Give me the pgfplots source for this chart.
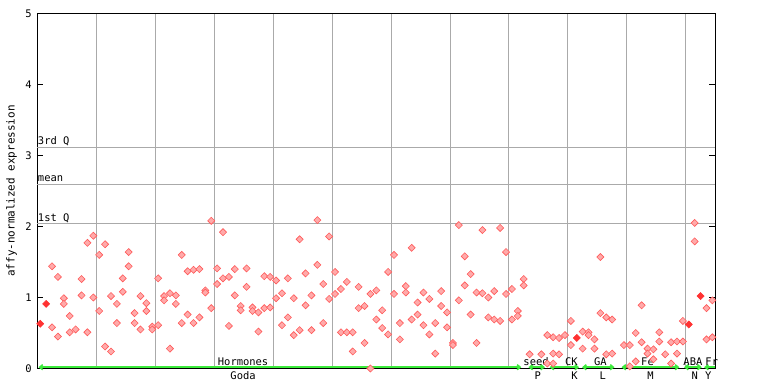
\documentclass[border=0pt]{standalone}
\usepackage{pgfplots}
\pgfplotsset{compat=1.18}
\usepackage{fontspec}
\setmainfont{DejaVu Sans Mono}
\usetikzlibrary{arrows.meta}
\definecolor{gridgray}{RGB}{170,170,170}
\definecolor{ptfill}{RGB}{255,170,170}
\definecolor{ptdraw}{RGB}{255,90,90}
\definecolor{solidred}{RGB}{255,50,50}
\definecolor{lgreen}{RGB}{60,235,60}
\newcommand{\sm}{\fontsize{10.5}{10.5}\selectfont}
\begin{document}
\begin{tikzpicture}[x=1bp,y=1bp]
\path[use as bounding box] (0,0) rectangle (768,384);
\begin{axis}[
  at={(37.3bp,15.5bp)}, anchor=south west,
  scale only axis, width=678bp, height=355bp,
  xmin=0.5, xmax=115.5, ymin=0, ymax=5,
  clip=false,
  axis line style={black, line width=1bp},
  xtick={10.5,20.5,...,110.5}, xticklabels={},
  xmajorgrids, major grid style={gridgray, line width=1bp},
  xtick style={draw=none},
  major tick length=6bp,
  ytick={0,1,2,3,4,5}, tick align=inside, ytick pos=both, yticklabel pos=left,
  ytick style={black, line width=1bp},
  yticklabel style={font=\sm, xshift=-2bp},
  /pgf/number format/assume math mode=true,
  extra y ticks={2.038,2.588,3.106}, extra y tick labels={},
  extra y tick style={grid=major, tick style={draw=none}},
]
\addplot[only marks, mark=square*, mark size=2.5bp,
  mark options={rotate=45, fill=ptfill, draw=ptdraw, line width=0.6bp}] coordinates {
(3,1.44)(3,0.58)(4,1.29)(4,0.45)(5,0.99)(5,0.91)(6,0.74)(6,0.51)(7,0.55)(8,1.26)(8,1.03)(9,1.77)(9,0.51)(10,1.87)(10,1.00)(11,1.60)(11,0.81)(12,1.75)(12,0.31)(13,1.02)(13,0.24)(14,0.91)(14,0.64)(15,1.27)(15,1.08)(16,1.64)(16,1.44)(17,0.78)(17,0.64)(18,1.02)(18,0.55)(19,0.92)(19,0.81)(20,0.59)(20,0.55)(21,1.27)(21,0.61)(22,1.02)(22,0.96)(23,1.06)(23,0.28)(24,1.03)(24,0.91)(25,1.60)(25,0.64)(26,1.37)(26,0.76)(27,1.39)(27,0.64)(28,1.40)(28,0.72)(29,1.10)(29,1.07)(30,2.08)(30,0.85)(31,1.41)(31,1.19)(32,1.92)(32,1.27)(33,1.29)(33,0.60)(34,1.40)(34,1.03)(35,0.88)(35,0.82)(36,1.41)(36,1.15)(37,0.86)(37,0.81)(38,0.79)(38,0.52)(39,1.30)(39,0.85)(40,1.29)(40,0.86)(41,1.24)(41,0.99)(42,1.06)(42,0.61)(43,1.27)(43,0.72)(44,0.99)(44,0.47)(45,1.82)(45,0.54)(46,1.34)(46,0.89)(47,1.03)(47,0.54)(48,2.09)(48,1.46)(49,1.19)(49,0.64)(50,1.86)(50,0.98)(51,1.36)(51,1.05)(52,1.12)(52,0.51)(53,1.22)(53,0.51)(54,0.51)(54,0.24)(55,1.15)(55,0.85)(56,0.88)(56,0.36)(57,1.05)(57,0.00)(58,1.10)(58,0.69)(59,0.82)(59,0.57)(60,1.36)(60,0.48)(61,1.60)(61,1.05)(62,0.64)(62,0.41)(63,1.16)(63,1.07)(64,1.70)(64,0.69)(65,0.93)(65,0.76)(66,1.07)(66,0.61)(67,0.98)(67,0.48)(68,0.64)(68,0.21)(69,1.09)(69,0.88)(70,0.79)(70,0.58)(71,0.36)(71,0.33)(72,2.02)(72,0.96)(73,1.58)(73,1.17)(74,1.33)(74,0.76)(75,1.07)(75,0.36)(76,1.95)(76,1.06)(77,1.00)(77,0.72)(78,1.09)(78,0.69)(79,1.98)(79,0.67)(80,1.64)(80,1.05)(81,1.12)(81,0.69)(82,0.81)(82,0.74)(83,1.26)(83,1.17)(84,0.20)(86,0.20)(87,0.47)(87,0.07)(88,0.44)(88,0.21)(88,0.07)(89,0.43)(89,0.20)(90,0.47)(91,0.67)(91,0.33)(93,0.52)(93,0.28)(94,0.51)(94,0.47)(95,0.41)(95,0.28)(96,1.57)(96,0.78)(97,0.72)(97,0.20)(98,0.69)(98,0.21)(100,0.33)(101,0.33)(101,0.03)(102,0.50)(102,0.10)(103,0.89)(103,0.37)(104,0.28)(104,0.21)(105,0.27)(105,0.13)(106,0.51)(106,0.38)(107,0.20)(108,0.37)(108,0.07)(109,0.38)(109,0.21)(110,0.67)(110,0.38)(112,2.05)(112,1.79)(114,0.85)(114,0.41)(115,0.96)(115,0.44)
};
\addplot[only marks, mark=square*, mark size=2.5bp,
  mark options={rotate=45, fill=solidred, draw=solidred, line width=0.6bp}] coordinates {
(1,0.63)(2,0.91)(92,0.43)(111,0.62)(113,1.02)
};
% quartile labels
\node[font=\sm, anchor=base west, inner sep=0pt, xshift=0.5bp, yshift=3bp] at (axis cs:0.5,3.106) {3rd Q};
\node[font=\sm, anchor=base west, inner sep=0pt, xshift=0.5bp, yshift=3bp] at (axis cs:0.5,2.588) {mean};
\node[font=\sm, anchor=base west, inner sep=0pt, xshift=0.5bp, yshift=2bp] at (axis cs:0.5,2.038) {1st Q};
% group spans
\begin{scope}[lgreen, line width=1.6bp]
\draw[{Straight Barb[length=3bp,width=5bp]}-{Straight Barb[length=3bp,width=5bp]}] ([yshift=1.3bp]axis cs:0.7,0) -- ([yshift=1.3bp]axis cs:82.6,0);
\draw[{Straight Barb[length=3bp,width=5bp]}-{Straight Barb[length=3bp,width=5bp]}] ([yshift=1.3bp]axis cs:83.8,0) -- ([yshift=1.3bp]axis cs:86.6,0);
\draw[{Straight Barb[length=3bp,width=5bp]}-{Straight Barb[length=3bp,width=5bp]}] ([yshift=1.3bp]axis cs:87.4,0) -- ([yshift=1.3bp]axis cs:92.4,0);
\draw[{Straight Barb[length=3bp,width=5bp]}-{Straight Barb[length=3bp,width=5bp]}] ([yshift=1.3bp]axis cs:92.9,0) -- ([yshift=1.3bp]axis cs:98.4,0);
\draw[{Straight Barb[length=3bp,width=5bp]}-{Straight Barb[length=3bp,width=5bp]}] ([yshift=1.3bp]axis cs:99.6,0) -- ([yshift=1.3bp]axis cs:109.4,0);
\draw[{Straight Barb[length=3bp,width=5bp]}-{Straight Barb[length=3bp,width=5bp]}] ([yshift=1.3bp]axis cs:110.2,0) -- ([yshift=1.3bp]axis cs:113.2,0);
\draw[{Straight Barb[length=3bp,width=5bp]}-] ([yshift=1.3bp]axis cs:113.6,0) -- ([yshift=1.3bp]axis cs:115.4,0);
\end{scope}
% group labels
\node[font=\sm, anchor=base west, inner sep=0pt] at ([yshift=3bp]axis cs:31.1,0) {Hormones};
\node[font=\sm, anchor=base, inner sep=0pt] at ([yshift=-10.5bp]axis cs:35.4,0) {Goda};
\node[font=\sm, anchor=base, inner sep=0pt] at ([yshift=3bp]axis cs:85.1,0) {seed};
\node[font=\sm, anchor=base, inner sep=0pt] at ([yshift=-11bp]axis cs:85.4,0) {P};
\node[font=\sm, anchor=base, inner sep=0pt] at ([yshift=3bp]axis cs:91.1,0) {CK};
\node[font=\sm, anchor=base, inner sep=0pt] at ([yshift=-11bp]axis cs:91.6,0) {K};
\node[font=\sm, anchor=base, inner sep=0pt] at ([yshift=3bp]axis cs:96.0,0) {GA};
\node[font=\sm, anchor=base, inner sep=0pt] at ([yshift=-11bp]axis cs:96.4,0) {L};
\node[font=\sm, anchor=base, inner sep=0pt] at ([yshift=3bp]axis cs:104.0,0) {Fe};
\node[font=\sm, anchor=base, inner sep=0pt] at ([yshift=-11bp]axis cs:104.5,0) {M};
\node[font=\sm, anchor=base, inner sep=0pt] at ([yshift=3bp]axis cs:111.7,0) {ABA};
\node[font=\sm, anchor=base, inner sep=0pt] at ([yshift=-11bp]axis cs:112.0,0) {N};
\node[font=\sm, anchor=base, inner sep=0pt] at ([yshift=3bp]axis cs:114.9,0) {Fr};
\node[font=\sm, anchor=base, inner sep=0pt] at ([yshift=-11bp]axis cs:114.3,0) {Y};
\end{axis}
\node[rotate=90, font=\fontsize{11}{11}\selectfont, inner sep=0pt] at (11.5,193) {affy-normalized expression};
\end{tikzpicture}
\end{document}
